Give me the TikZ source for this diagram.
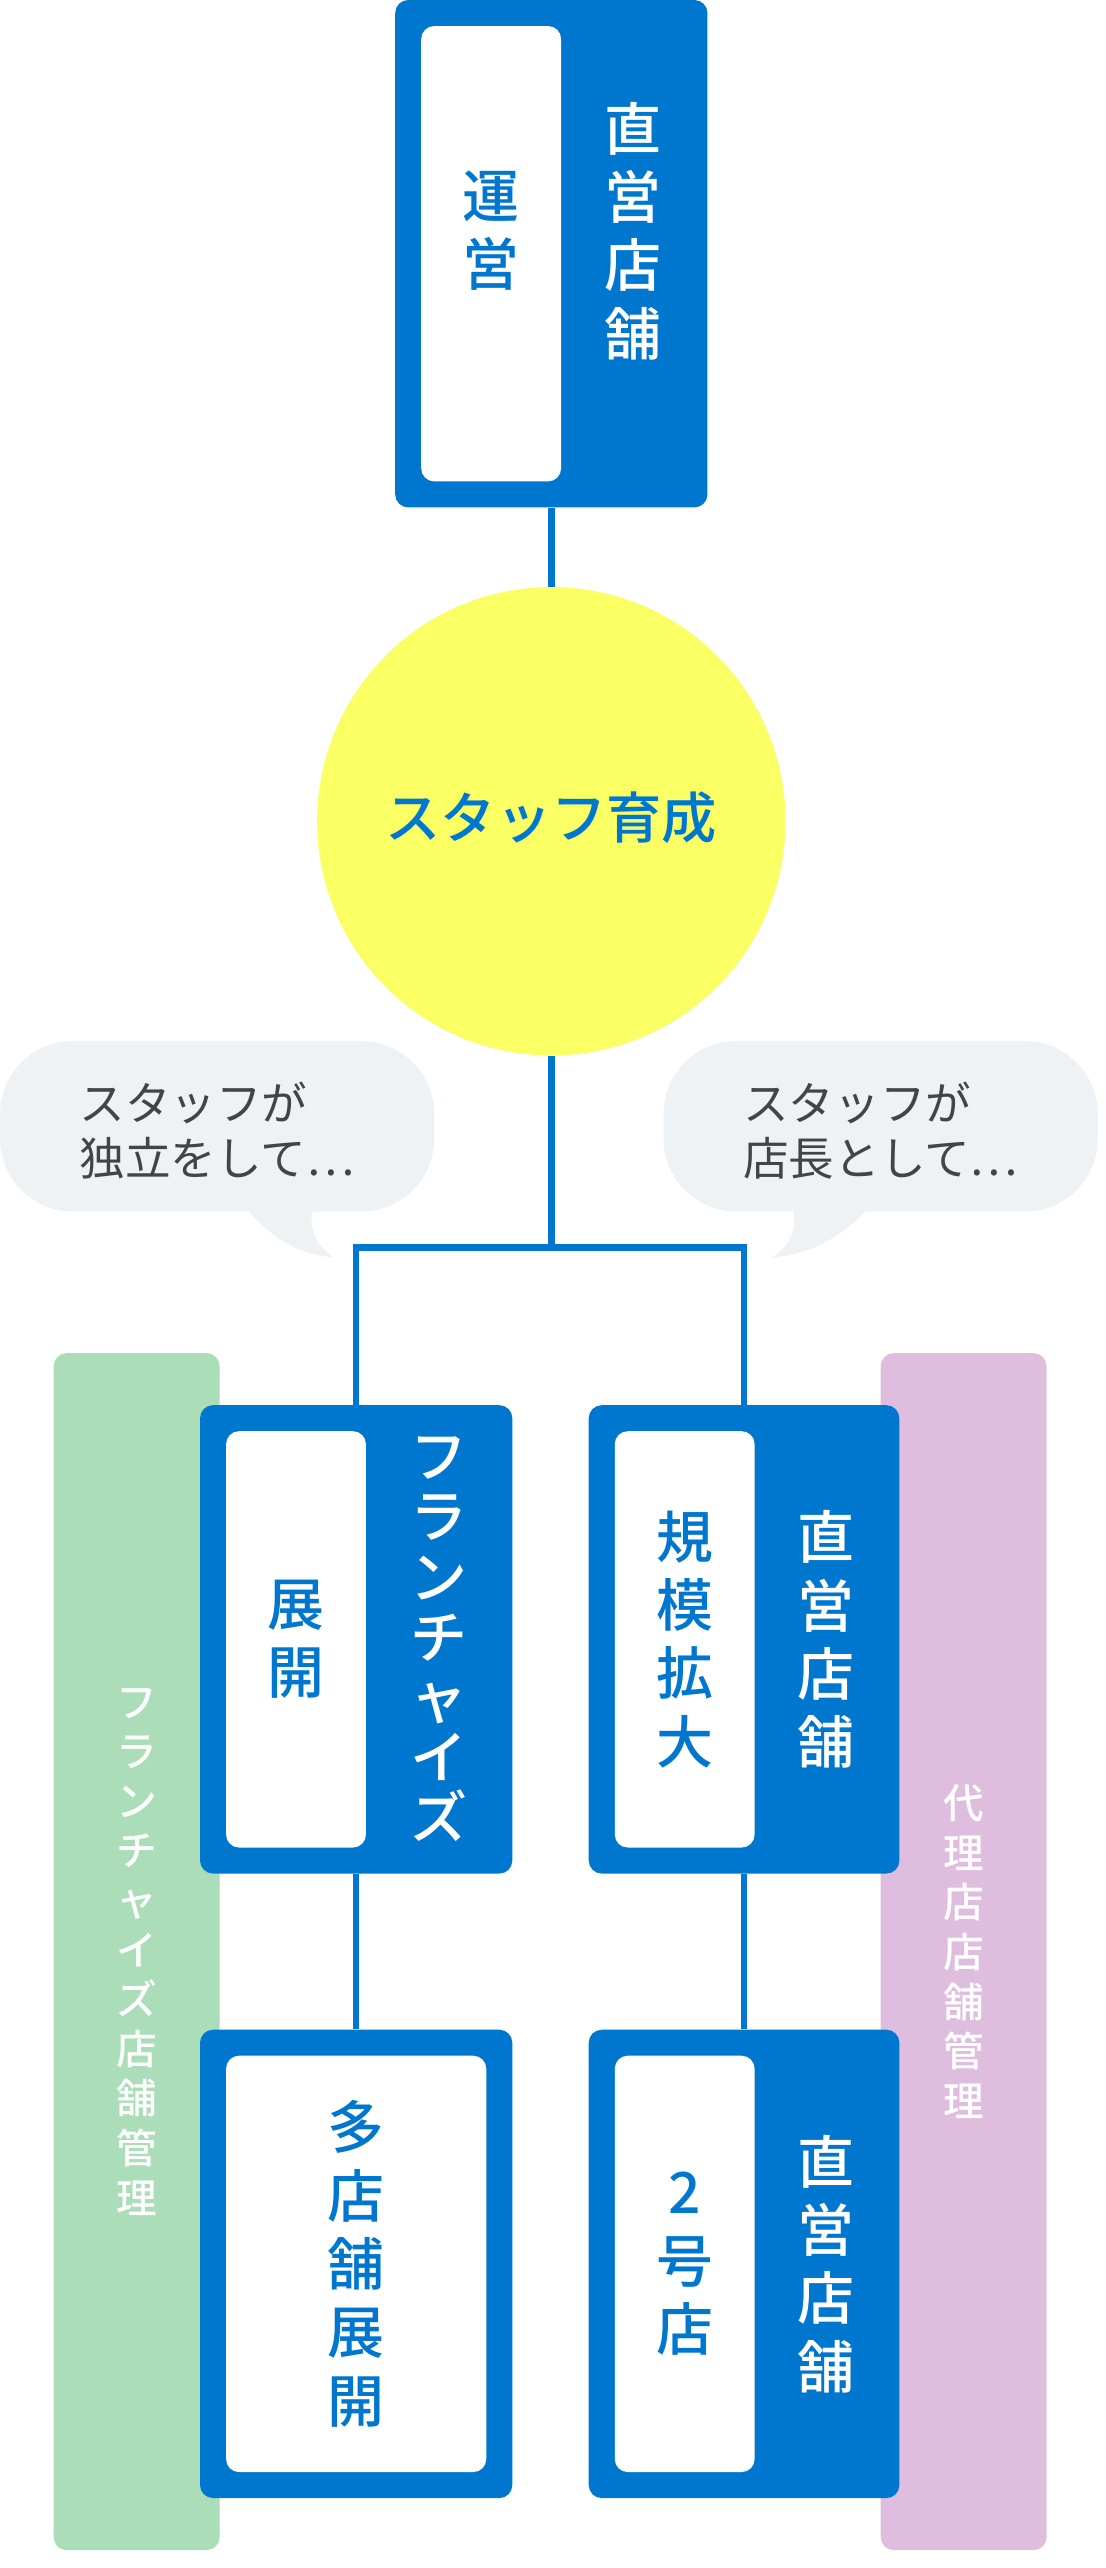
\documentclass[tikz,border=0pt]{standalone}
\usepackage{fontspec}
\setmainfont{Noto Sans CJK JP}[BoldFont={Noto Sans CJK JP Medium}]
\definecolor{blu}{HTML}{0077CF}
\definecolor{yel}{HTML}{FAFF63}
\definecolor{bub}{HTML}{EEF2F5}
\definecolor{grn}{HTML}{ABDDB8}
\definecolor{pur}{HTML}{DFBDDF}
\definecolor{txt}{HTML}{444444}
\begin{document}
\begin{tikzpicture}[x=1pt,y=-1pt,
 box/.style={fill=blu,rounded corners=8pt,minimum width=192pt,minimum height=#1,inner sep=0pt},
 wb/.style={fill=white,rounded corners=8pt,inner sep=0pt},
 vt/.style={align=center,font=\fontsize{35}{42}\selectfont\bfseries,inner sep=0pt},
 bar/.style={rounded corners=8pt,minimum width=102pt,minimum height=736pt,inner sep=0pt},
 bt/.style={align=center,text=white,font=\fontsize{25}{30.5}\selectfont\bfseries,inner sep=0pt},
 ln/.style={blu,line width=4pt},
 bubble/.style={fill=bub,rounded corners=45pt,minimum width=267pt,minimum height=105pt,inner sep=0pt},
 bubt/.style={align=left,text=txt,font=\fontsize{28}{34}\selectfont,inner sep=0pt}]
\useasboundingbox (0,0) rectangle (680,1579);
% bars
\node[bar,fill=grn] (gbar) at (84,1200) {};
\node[bt] (gtxt) at (84,1200) {フ\\ラ\\ン\\チ\\ャ\\イ\\ズ\\店\\舗\\管\\理};
\node[bar,fill=pur] (pbar) at (592.5,1200) {};
\node[bt] (ptxt) at (592.5,1200) {代\\理\\店\\店\\舗\\管\\理};
% bubbles
\node[bubble] (lb) at (133.5,692.5) {};
\fill[bub] (145,735) .. controls (165,762) and (185,772) .. (205,773) .. controls (192,765) and (188,750) .. (195,735) -- cycle;
\node[bubt] (lbt) at (133.5,695) {スタッフが\\独立をして…};
\node[bubble] (rb) at (541.5,692.5) {};
\fill[bub] (540,735) .. controls (520,762) and (495,772) .. (475,773) .. controls (488,765) and (492,750) .. (485,735) -- cycle;
\node[bubt] (rbt) at (541.5,695) {スタッフが\\店長として…};
% top box
\node[box=312pt] (top) at (339,156) {};
\node[wb,minimum width=86pt,minimum height=280pt] (topw) at (302,156) {};
\node[vt,text=blu] (topwt) at (302,142) {運\\営};
\node[vt,text=white] (topt) at (389,142) {直\\営\\店\\舗};
% circle
\node[circle,fill=yel,minimum size=288pt,inner sep=0pt] (circ) at (339,505) {};
\node[text=blu,font=\fontsize{34}{40}\selectfont\bfseries,inner sep=0pt] (circt) at (339,503) {スタッフ育成};
% middle boxes
\node[box=288pt] (fr) at (219,1008) {};
\node[wb,minimum width=86pt,minimum height=256pt] (frw) at (182,1008) {};
\node[vt,text=blu] (frwt) at (182,1008) {展\\開};
\node[vt,text=white,font=\fontsize{35}{37}\selectfont\bfseries] (frt) at (270,1008) {フ\\ラ\\ン\\チ\\ャ\\イ\\ズ};
\node[box=288pt,minimum width=191pt] (rt) at (457.5,1008) {};
\node[wb,minimum width=86pt,minimum height=256pt] (rtw) at (421,1008) {};
\node[vt,text=blu] (rtwt) at (421,1008) {規\\模\\拡\\大};
\node[vt,text=white] (rtt) at (508,1008) {直\\営\\店\\舗};
% bottom boxes
\node[box=288pt] (bl) at (219,1392) {};
\node[wb,minimum width=160pt,minimum height=256pt] (blw) at (219,1392) {};
\node[vt,text=blu] (blwt) at (219,1392) {多\\店\\舗\\展\\開};
\node[box=288pt,minimum width=191pt] (br) at (457.5,1392) {};
\node[wb,minimum width=86pt,minimum height=256pt] (brw) at (421,1392) {};
\node[vt,text=blu] (brwt) at (421,1392) {2\\号\\店};
\node[vt,text=white] (brt) at (508,1392) {直\\営\\店\\舗};
% connectors
\coordinate (j) at (339,767);
\draw[ln] (top.south) -- (circ.north);
\draw[ln] (circ.south) -- (j);
\draw[ln] (fr.north) |- (j) -| (rt.north);
\draw[ln] (fr.south) -- (bl.north);
\draw[ln] (rt.south) -- (br.north);
\end{tikzpicture}
\end{document}
